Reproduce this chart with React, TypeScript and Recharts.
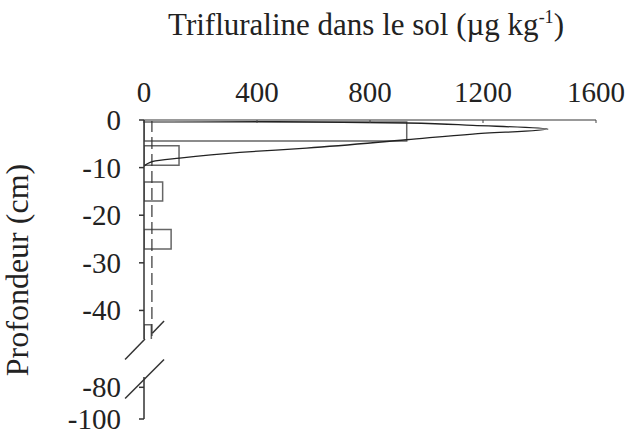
import React from "react";
import {
  ComposedChart,
  Line,
  XAxis,
  YAxis,
  ReferenceArea,
  ReferenceLine,
} from "recharts";

// concentration axis (µg/kg) and depth axis (cm)
const xTicks = [0, 400, 800, 1200, 1600];
const upperDepthTicks = [0, -10, -20, -30, -40];
const lowerDepthTicks = [-80, -100];

// measured soil layers
const barTops = [-0.4, -5.4, -13, -23, -43];
const barBottoms = [-4.4, -9.5, -17, -27.1, -47];
const barValues = [930, 124, 66, 96, 26];

// deep sample (only its top edge shows below the break)
const deepTop = -77;
const deepValue = 26;

// background level (dashed)
const backgroundLevel = 28;

// simulated profile
const curveDepths = [0, -0.15, -0.3, -0.63, -1.13, -1.9, -2.95, -4.15, -5.9, -6.8, -8.0, -8.7, -9.75];
const curveValues = [0, 200, 398, 929, 1164, 1430, 1164, 929, 575, 339, 126, 32, 0];

// axis break marks, in data coordinates of the upper panel
const breakMarks = [
  [[-67, -50.3], [3.5, -46.0]],
  [[-67, -58.5], [71, -50.3]],
  [[29.4, -44.8], [71, -42.2]],
];

const curveData = curveDepths.map((d, i) => ({ depth: d, value: curveValues[i] }));

const font = "'Liberation Serif', 'Times New Roman', serif";
const W = 630;
const H = 436;

const XTick = (props: any) => (
  <text
    x={props.x}
    y={props.y}
    textAnchor="middle"
    fontFamily={font}
    fontSize={29}
    fill="#222"
  >
    {props.payload.value}
  </text>
);

const YTick = (props: any) => (
  <text
    x={props.x}
    y={props.y}
    dy={10}
    textAnchor="end"
    fontFamily={font}
    fontSize={29}
    fill="#222"
  >
    {props.payload.value}
  </text>
);

export default function App() {
  return (
    <div style={{ position: "absolute", left: 0, top: 0, width: W, height: H, background: "#fff" }}>
      {/* lower panel: -80 .. -100 */}
      <div style={{ position: "absolute", left: 0, top: 0 }}>
        <ComposedChart
          width={W}
          height={H}
          layout="vertical"
          data={[]}
          margin={{ top: 377, right: 34, bottom: 17, left: 104 }}
        >
          <XAxis type="number" domain={[0, 1600]} hide />
          <YAxis
            type="number"
            dataKey="depth"
            domain={[-100, -73.5]}
            ticks={lowerDepthTicks}
            interval={0}
            allowDataOverflow
            reversed
            width={40}
            tickSize={5}
            tickMargin={18}
            tick={<YTick />}
            axisLine={{ stroke: "#333", strokeWidth: 1.5 }}
            tickLine={{ stroke: "#333", strokeWidth: 1.5 }}
          />
          <ReferenceLine
            x={backgroundLevel}
            stroke="#333"
            strokeWidth={1.2}
            strokeDasharray="12 5"
          />
          <ReferenceLine
            segment={[
              { x: 0, y: deepTop },
              { x: deepValue, y: deepTop },
            ]}
            stroke="#666"
            strokeWidth={1.5}
          />
        </ComposedChart>
      </div>

      {/* upper panel: 0 .. -46 */}
      <div style={{ position: "absolute", left: 0, top: 0 }}>
        <ComposedChart
          width={W}
          height={H}
          layout="vertical"
          data={curveData}
          margin={{ top: 90, right: 34, bottom: 97, left: 104 }}
        >
          <XAxis
            type="number"
            orientation="top"
            domain={[0, 1600]}
            ticks={xTicks}
            interval={0}
            height={30}
            tickSize={-3}
            tickMargin={21}
            tick={<XTick />}
            axisLine={{ stroke: "#999", strokeWidth: 2 }}
            tickLine={{ stroke: "#444", strokeWidth: 1 }}
          />
          <YAxis
            type="number"
            dataKey="depth"
            domain={[-46, 0]}
            ticks={upperDepthTicks}
            interval={0}
            allowDataOverflow
            reversed
            width={40}
            tickSize={5}
            tickMargin={18}
            tick={<YTick />}
            axisLine={{ stroke: "#333", strokeWidth: 1.5 }}
            tickLine={{ stroke: "#333", strokeWidth: 1.5 }}
          />
          <ReferenceLine
            x={backgroundLevel}
            stroke="#333"
            strokeWidth={1.2}
            strokeDasharray="12 5"
          />
          {barValues.map((v, i) => (
            <ReferenceArea
              key={`layer-${i}`}
              x1={0}
              x2={v}
              y1={barTops[i]}
              y2={barBottoms[i]}
              ifOverflow="hidden"
              fill="none"
              fillOpacity={0}
              stroke="#666"
              strokeWidth={1.5}
            />
          ))}
          <Line
            dataKey="value"
            type="monotone"
            stroke="#222"
            strokeWidth={1.3}
            dot={false}
            isAnimationActive={false}
          />
          {breakMarks.map((m, i) => (
            <ReferenceLine
              key={`break-${i}`}
              segment={[
                { x: m[0][0], y: m[0][1] },
                { x: m[1][0], y: m[1][1] },
              ]}
              ifOverflow="visible"
              stroke="#333"
              strokeWidth={1.5}
            />
          ))}
        </ComposedChart>
      </div>

      {/* titles */}
      <svg
        width={W}
        height={H}
        style={{ position: "absolute", left: 0, top: 0, pointerEvents: "none" }}
      >
        <text x={366} y={35} textAnchor="middle" fontFamily={font} fontSize={31} fill="#222">
          Trifluraline dans le sol (µg kg
          <tspan dy={-12} fontSize={18}>-1</tspan>
          <tspan dy={12}>)</tspan>
        </text>
        <text
          x={0}
          y={0}
          transform="translate(28 270) rotate(-90)"
          textAnchor="middle"
          fontFamily={font}
          fontSize={32}
          fill="#222"
        >
          Profondeur (cm)
        </text>
      </svg>
    </div>
  );
}
